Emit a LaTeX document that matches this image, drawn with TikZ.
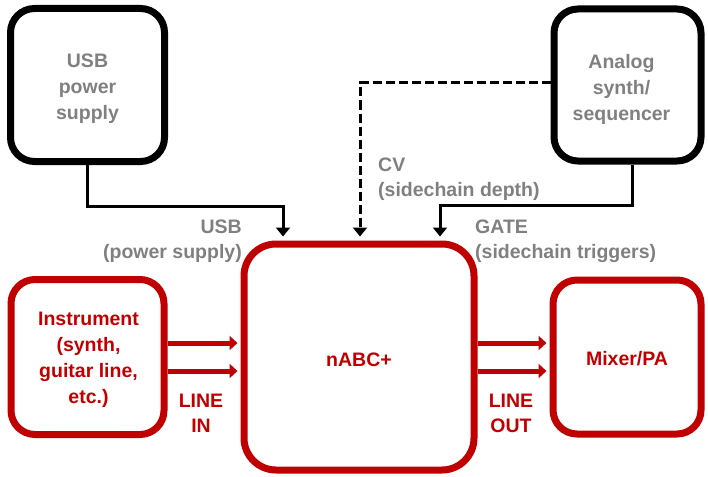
\documentclass[tikz,border=0pt]{standalone}
\usepackage{fontspec}
\setmainfont{Liberation Sans}
\usetikzlibrary{arrows.meta}
\definecolor{dred}{HTML}{C00000}
\definecolor{tgray}{HTML}{808080}
\tikzset{
  x=1pt,y=-1pt,
  bbox/.style={draw=black,line width=7pt,rounded corners=24pt,fill=white,inner sep=0pt},
  rbox/.style={bbox,draw=dred},
  btxt/.style={text=tgray,inner sep=0pt,align=center,font=\bfseries\fontsize{19.5}{26}\selectfont},
  rtxt/.style={btxt,text=dred},
  blk/.style={line width=3pt,draw=black,-{Triangle[length=9pt,width=14pt]}},
  red/.style={line width=5pt,draw=dred,-{Triangle[length=8pt,width=14pt]}},
  lbl/.style={text=tgray,inner sep=0pt,font=\bfseries\fontsize{19.5}{25}\selectfont},
  rlbl/.style={lbl,text=dred,align=center}
}
\begin{document}
\begin{tikzpicture}
\useasboundingbox (0,0) rectangle (708,476);
\node[bbox,minimum width=154pt,minimum height=153pt] (usb) at (87.5,85) {};
\node[bbox,minimum width=147pt,minimum height=152pt] (syn) at (627.5,85) {};
\node[rbox,minimum width=153pt,minimum height=155pt] (inst) at (87.5,357) {};
\node[rbox,minimum width=230pt,minimum height=226pt,rounded corners=32pt] (main) at (359,357) {};
\node[rbox,minimum width=148pt,minimum height=154pt] (mix) at (627,357) {};

\node[btxt] (tusb) at ([yshift=-4pt]usb.center) {USB\\power\\supply};
\node[btxt] (tsyn) at ([xshift=-6pt,yshift=-4pt]syn.center) {Analog\\synth/\\sequencer};
\node[rtxt] (tinst) at ([xshift=1pt,yshift=-3pt]inst.center) {Instrument\\(synth,\\guitar line,\\etc.)};
\node[rtxt] (tmain) at ([yshift=-3pt]main.center) {nABC+};
\node[rtxt] (tmix) at ([yshift=-2pt]mix.center) {Mixer/PA};

\draw[blk] (usb.south) -- ++(0,41) -| ([xshift=-76pt,yshift=4pt]main.north);
\draw[blk,dash pattern=on 9pt off 4pt] ([yshift=2pt]syn.west) -| ([xshift=1pt,yshift=4pt]main.north);
\draw[blk] ([xshift=4.5pt]syn.south) -- ++(0,41) -| ([xshift=81pt,yshift=4pt]main.north);

\draw[red] ([yshift=14pt]inst.east) -- ([yshift=14pt,xshift=-3pt]main.west);
\draw[red] ([yshift=-14pt]inst.east) -- ([yshift=-14pt,xshift=-3pt]main.west);
\draw[red] ([yshift=14pt]main.east) -- ([yshift=14pt,xshift=-3pt]mix.west);
\draw[red] ([yshift=-14pt]main.east) -- ([yshift=-14pt,xshift=-3pt]mix.west);

\node[lbl,anchor=east,align=right] (lusb) at (242,241) {USB\\(power supply)};
\node[lbl,anchor=west,align=left] (lcv) at (378,179) {CV\\(sidechain depth)};
\node[lbl,anchor=west,align=left] (lgate) at (475,241) {GATE\\(sidechain triggers)};
\node[rlbl] (lin) at (201,413) {LINE\\IN};
\node[rlbl] (lout) at (511,413) {LINE\\OUT};
\end{tikzpicture}
\end{document}
